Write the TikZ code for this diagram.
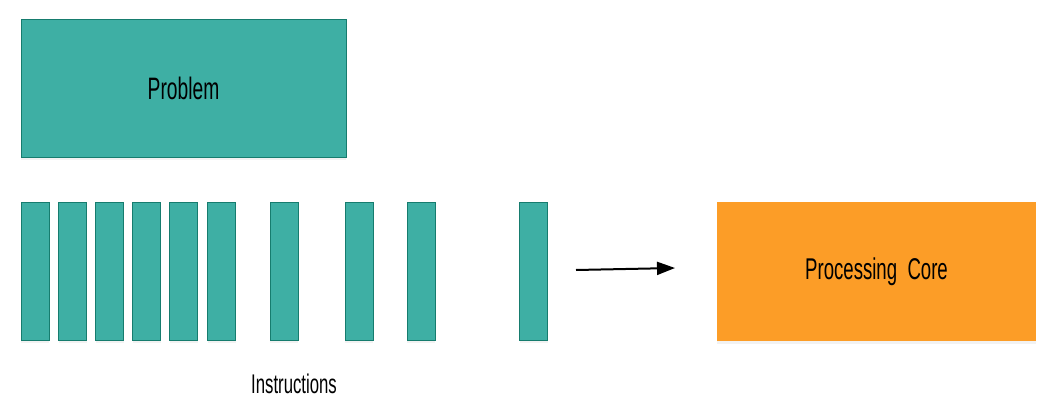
\documentclass[tikz,border=0pt]{standalone}
\usepackage{fontspec}
\setmainfont{Liberation Sans}[FakeStretch=0.62]
\usetikzlibrary{arrows.meta,shadows}
\definecolor{teal1}{HTML}{3EAFA4}
\definecolor{teal2}{HTML}{167C6E}
\definecolor{orng}{HTML}{FC9D27}

\begin{document}
\begin{tikzpicture}[x=1pt,y=-1pt,
    sh/.style={drop shadow={opacity=0.1,shadow xshift=0pt,shadow yshift=-3pt}},
    box/.style={rectangle,draw=teal2,fill=teal1,sh,inner sep=0pt,
        minimum width=325pt,minimum height=138pt,font=\fontsize{31}{34}\selectfont},
    bar/.style={rectangle,draw=teal2,fill=teal1,sh,inner sep=0pt,
        minimum width=28pt,minimum height=138pt},
    core/.style={rectangle,fill=orng,sh,inner sep=0pt,
        minimum width=319pt,minimum height=139pt,font=\fontsize{30}{34}\selectfont}]
    \useasboundingbox (0,0) rectangle (1054,412);
    \node[box] (prob) at (183.5,88) {Problem};
    \foreach \x [count=\i] in {35,72.5,109.5,146.5,183.5,221.5,284,359,421,533.5}
        \node[bar] (b\i) at (\x,271) {};
    \node (instr) at (294,384) {\fontsize{27}{30}\selectfont Instructions};
    \node[core] (core) at (876.5,271.5) {Processing\ \ Core};
    \coordinate (a0) at (576,270);
    \coordinate (a1) at (675,268);
    \draw[-{Triangle[length=18pt,width=13pt]},line width=2pt] (a0) -- (a1);
\end{tikzpicture}
\end{document}
